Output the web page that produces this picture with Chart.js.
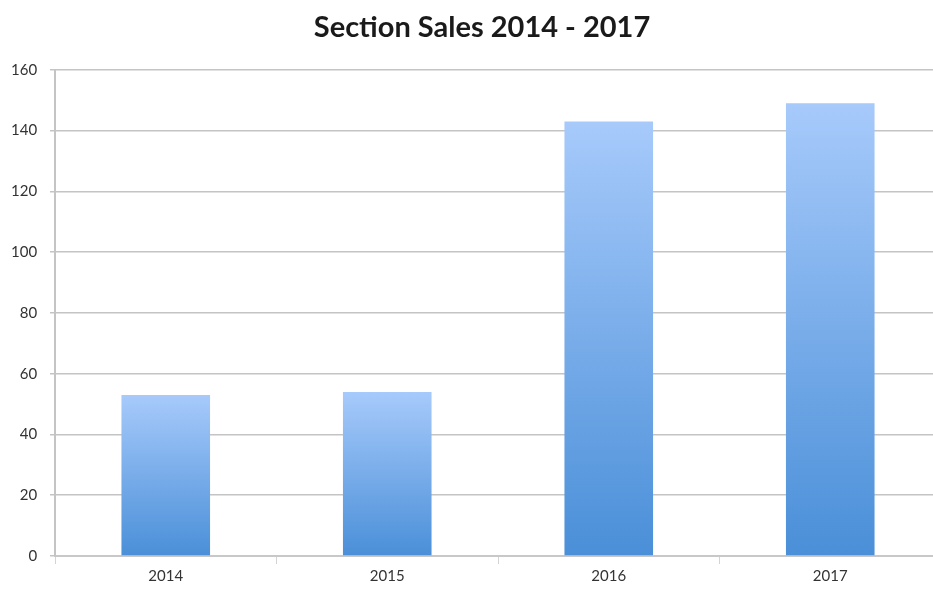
<!DOCTYPE html>
<html>
<head>
<meta charset="utf-8">
<title>Section Sales 2014 - 2017</title>
<script src="https://cdn.jsdelivr.net/npm/chart.js@4/dist/chart.umd.min.js"></script>
<style>
    html, body { margin: 0; padding: 0; background: #fff; overflow: hidden; }
    #wrap { width: 933px; height: 590px; overflow: hidden; }
    #salesChart { display: block; }
</style>
</head>
<body>
<div id="wrap"><canvas id="salesChart" width="964" height="590"></canvas></div>
<script>
// Dữ liệu doanh số
const years = ['2014', '2015', '2016', '2017'];
const sales = [53, 54, 143, 149];
const yTicks = [0, 20, 40, 60, 80, 100, 120, 140, 160];

// Màu gradient cho từng cột: sáng ở trên, đậm ở dưới
function barGradient(context) {
    const chart = context.chart;
    const { ctx, scales } = chart;
    if (!scales.y || !context.parsed) return '#7fb0ee';
    const top = scales.y.getPixelForValue(context.parsed.y);
    const bottom = scales.y.getPixelForValue(0);
    if (!Number.isFinite(top) || !Number.isFinite(bottom) || top === bottom) return '#7fb0ee';
    const g = ctx.createLinearGradient(0, top, 0, bottom);
    g.addColorStop(0, '#a7cafb');
    g.addColorStop(1, '#4a8fd8');
    return g;
}

const ctx = document.getElementById('salesChart').getContext('2d');
new Chart(ctx, {
    type: 'bar',
    data: {
        labels: years,
        datasets: [{
            label: 'Sales',
            data: sales,
            backgroundColor: barGradient,
            borderWidth: 0,
            barPercentage: 0.4,
            categoryPercentage: 1
        }]
    },
    options: {
        responsive: false,
        animation: false,
        layout: { padding: { left: 23, right: 23, top: 0, bottom: 0 } },
        plugins: {
            legend: { display: false },
            tooltip: { enabled: false },
            title: {
                display: true,
                text: 'Section Sales 2014 - 2017',
                color: '#1a1a1a',
                font: { family: 'Lato', size: 29, weight: 'bold' },
                padding: { top: 10, bottom: 25 }
            }
        },
        scales: {
            x: {
                offset: true,
                grid: {
                    offset: true,
                    drawOnChartArea: false,
                    drawTicks: true,
                    tickLength: 8,
                    color: '#d4d4d4'
                },
                border: { display: true, color: '#c8c8c8', width: 2 },
                ticks: {
                    color: '#333',
                    font: { family: 'Lato', size: 15 },
                    padding: 3
                },
                afterFit: scale => { scale.height = 34; }
            },
            y: {
                min: 0,
                max: 160,
                afterBuildTicks: scale => {
                    scale.ticks = yTicks.map(v => ({ value: v }));
                },
                grid: {
                    color: '#c4c4c4',
                    lineWidth: 1.5,
                    tickLength: 5
                },
                border: { display: true, color: '#c4c4c4', width: 2 },
                // nhãn trục y canh phải, nằm bên trái trục
                ticks: {
                    color: '#333',
                    font: { family: 'Lato', size: 15 },
                    mirror: true,
                    crossAlign: 'far',
                    padding: -44
                },
                afterFit: scale => { scale.width = 32; }
            }
        }
    }
});
</script>
</body>
</html>
